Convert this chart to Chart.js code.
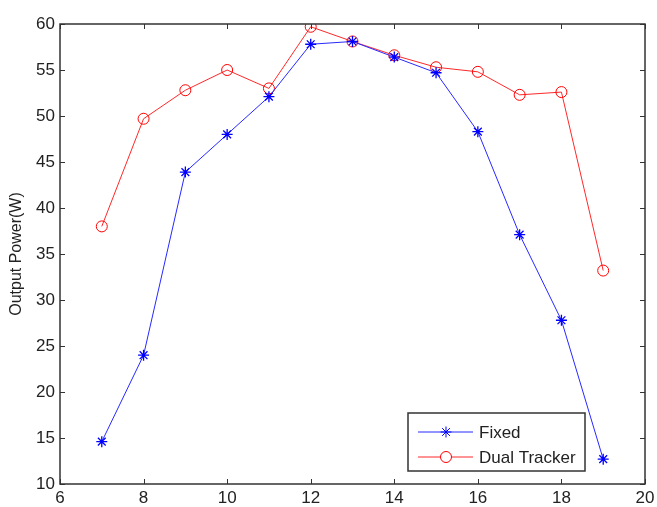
<!DOCTYPE html>
<html>
<head>
<meta charset="utf-8">
<script src="https://cdn.jsdelivr.net/npm/chart.js@4.4.0/dist/chart.umd.min.js"></script>
<style>
  html, body { margin: 0; padding: 0; background: #fff; }
  #wrap { width: 657px; height: 507px; }
</style>
</head>
<body>
<div id="wrap"><canvas id="chart"></canvas></div>
<script>
const hours = [7, 8, 9, 10, 11, 12, 13, 14, 15, 16, 17, 18, 19];
const fixedPower = [14.6, 24.0, 43.9, 48.0, 52.1, 57.8, 58.1, 56.4, 54.7, 48.3, 37.1, 27.8, 12.7];
const dualPower = [38.0, 49.7, 52.8, 55.0, 53.0, 59.7, 58.1, 56.6, 55.3, 54.8, 52.3, 52.6, 33.2];
const xTickValues = [6, 8, 10, 12, 14, 16, 18, 20];
const yTickValues = [10, 15, 20, 25, 30, 35, 40, 45, 50, 55, 60];

const axisColor = "#333";
const textColor = "#222";
const fontFamily = "'Liberation Sans', Arial, sans-serif";

// MATLAB style box with inward ticks on all four sides
const boxAxes = {
  id: "boxAxes",
  afterDatasetsDraw(chart) {
    const { ctx, chartArea: a, scales } = chart;
    const len = 5;
    ctx.save();
    ctx.strokeStyle = axisColor;
    ctx.lineWidth = 1;
    ctx.beginPath();
    scales.x.ticks.forEach((t) => {
      const px = Math.round(scales.x.getPixelForValue(t.value)) + 0.5;
      ctx.moveTo(px, a.bottom);
      ctx.lineTo(px, a.bottom - len);
      ctx.moveTo(px, a.top);
      ctx.lineTo(px, a.top + len);
    });
    scales.y.ticks.forEach((t) => {
      const py = Math.round(scales.y.getPixelForValue(t.value)) + 0.5;
      ctx.moveTo(a.left, py);
      ctx.lineTo(a.left + len, py);
      ctx.moveTo(a.right, py);
      ctx.lineTo(a.right - len, py);
    });
    ctx.stroke();
    ctx.lineWidth = 1.5;
    ctx.strokeRect(a.left, a.top, a.right - a.left, a.bottom - a.top);
    ctx.restore();
  }
};

// legend box in the lower right of the plot, drawn from the datasets
const boxLegend = {
  id: "boxLegend",
  afterDraw(chart) {
    const { ctx } = chart;
    const x = 408, y = 413, w = 177, h = 58;
    ctx.save();
    ctx.fillStyle = "#fff";
    ctx.fillRect(x, y, w, h);
    ctx.strokeStyle = axisColor;
    ctx.lineWidth = 1.5;
    ctx.strokeRect(x, y, w, h);
    ctx.font = "17px " + fontFamily;
    ctx.textBaseline = "middle";
    chart.data.datasets.forEach((ds, i) => {
      const ly = y + 19 + i * 25;
      ctx.strokeStyle = ds.borderColor;
      ctx.lineWidth = 1;
      ctx.beginPath();
      ctx.moveTo(x + 10, ly);
      ctx.lineTo(x + 65, ly);
      ctx.stroke();
      ctx.strokeStyle = ds.pointBorderColor;
      ctx.fillStyle = "#fff";
      Chart.helpers.drawPoint(ctx, {
        pointStyle: ds.pointStyle,
        radius: ds.pointRadius,
        borderWidth: ds.pointBorderWidth
      }, x + 38, ly);
      ctx.fillStyle = textColor;
      ctx.fillText(ds.label, x + 71, ly + 1);
    });
    ctx.restore();
  }
};

new Chart(document.getElementById("chart"), {
  type: "line",
  data: {
    datasets: [{
      label: "Fixed",
      data: hours.map((h, i) => ({ x: h, y: fixedPower[i] })),
      borderColor: "rgb(40,40,255)",
      backgroundColor: "rgba(0,0,0,0)",
      borderWidth: 1,
      pointStyle: "star",
      pointRadius: 5.5,
      pointBorderWidth: 1.3,
      pointBorderColor: "rgb(0,0,255)",
      tension: 0
    }, {
      label: "Dual Tracker",
      data: hours.map((h, i) => ({ x: h, y: dualPower[i] })),
      borderColor: "rgb(255,40,40)",
      backgroundColor: "rgba(0,0,0,0)",
      borderWidth: 1,
      pointStyle: "circle",
      pointRadius: 5.5,
      pointBorderWidth: 1,
      pointBorderColor: "rgb(255,0,0)",
      tension: 0
    }]
  },
  options: {
    responsive: true,
    maintainAspectRatio: false,
    animation: false,
    layout: { padding: { top: 24, right: 12, left: 7, bottom: 0 } },
    plugins: {
      legend: { display: false },
      tooltip: { enabled: false }
    },
    scales: {
      x: {
        type: "linear",
        min: 6,
        max: 20,
        afterBuildTicks: (s) => { s.ticks = xTickValues.map((v) => ({ value: v })); },
        grid: { display: false, drawTicks: false },
        border: { display: false },
        ticks: { color: textColor, font: { family: fontFamily, size: 17 }, padding: 4 },
        afterFit: (s) => { s.height = 23; s.paddingRight = 0; s.paddingLeft = 0; }
      },
      y: {
        min: 10,
        max: 60,
        afterBuildTicks: (s) => { s.ticks = yTickValues.map((v) => ({ value: v })); },
        grid: { display: false, drawTicks: false },
        border: { display: false },
        title: {
          display: true,
          text: "Output Power(W)",
          color: textColor,
          font: { family: fontFamily, size: 16 },
          padding: 0
        },
        ticks: { color: textColor, font: { family: fontFamily, size: 17 }, padding: 5 },
        afterFit: (s) => { s.width = 53; s.paddingTop = 0; s.paddingBottom = 0; }
      }
    }
  },
  plugins: [boxAxes, boxLegend]
});
</script>
</body>
</html>
